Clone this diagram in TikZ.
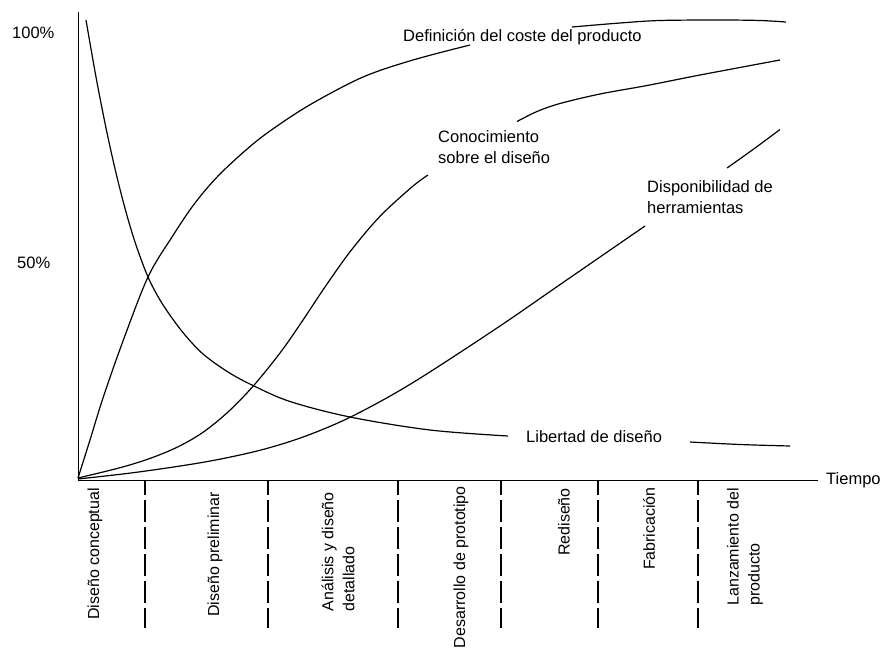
\documentclass[tikz,border=0pt]{standalone}
\usepackage{fontspec}
\setmainfont{Liberation Sans}
\begin{document}
\begin{tikzpicture}[x=1pt,y=-1pt,
  lbl/.style={font=\fontsize{16.5}{21}\selectfont, inner sep=0pt, align=left},
  phase/.style={lbl, font=\fontsize{16}{21}\selectfont, rotate=90, anchor=east},
  curve/.style={line width=1.2pt, line join=round},
  axis/.style={line width=1pt},
  sepline/.style={line width=1.4pt, dash pattern=on 22pt off 5pt, dash phase=7pt}
]
\useasboundingbox (0,0) rectangle (882,651);

% axes
\coordinate (ytop) at (78,12);
\coordinate (orig) at (78,480);
\coordinate (xend) at (818,480);
\draw[axis] (ytop) -- (orig) -- (xend);

% axis labels
\node[lbl, anchor=base west] (p100) at (12,38) {100\%};
\node[lbl, anchor=base west] (p50) at (17,268) {50\%};
\node[lbl, anchor=base west] (tiempo) at (826,484) {Tiempo};

% phase separators
\foreach \xx/\nm in {145/s1,268/s2,398/s3,501/s4,598/s5,698/s6}{
  \coordinate (\nm a) at (\xx,480);
  \coordinate (\nm b) at (\xx,628);
  \draw[sepline] (\nm a) -- (\nm b);
}

% phase labels
\node[phase] (f1) at (95,488) {Diseño conceptual};
\node[phase] (f2) at (215,492) {Diseño preliminar};
\node[phase] (f3) at (338,492) {Análisis y diseño\\detallado};
\node[phase] (f4) at (461,486) {Desarrollo de prototipo};
\node[phase] (f5) at (564,488) {Rediseño};
\node[phase] (f6) at (649,487) {Fabricación};
\node[phase] (f7) at (745,488) {Lanzamiento del\\producto};

% curve labels
\node[lbl, anchor=base west] (lcoste) at (403,41) {Definición del coste del producto};
\node[lbl, anchor=north west] (lcon) at (438,130.5) {Conocimiento\\sobre el diseño};
\node[lbl, anchor=north west] (ldisp) at (647,180.5) {Disponibilidad de\\herramientas};
\node[lbl, anchor=base west] (llib) at (526,442) {Libertad de diseño};

% Libertad de diseño
\draw[curve] plot[smooth, tension=0.55] coordinates {(86,20) (96,77) (106,128) (116,173) (126,212) (136,245) (148,277) (160,300) (172,318) (185,335) (203,354) (228,372) (253,385.5) (290,401.5) (350,417) (430,430) (508,436)};
\draw[curve] plot[smooth, tension=0.55] coordinates {(690,442) (740,444.5) (790,446)};

% Definición del coste del producto
\draw[curve] plot[smooth, tension=0.55] coordinates {(78,478) (90,440) (103,398) (123,341) (148,277) (172,237) (195,203) (220,174) (253,144) (280,124) (313,103) (363,77) (413,60) (470,45)};
\draw[curve] plot[smooth, tension=0.55] coordinates {(572,27) (620,23) (660,20.5) (720,20) (760,20.5) (786,22)};

% Conocimiento sobre el diseño
\draw[curve] plot[smooth, tension=0.55] coordinates {(78,478) (120,467.7) (150,458.4) (178,446.8) (203,432.3) (228,412) (253,386.3) (280,353) (300,324.5) (326,285.5) (351,250.5) (380,216.3) (412,186.9) (428,175)};
\draw[curve] plot[smooth, tension=0.55] coordinates {(517,121.5) (537,111.5) (560,103.5) (600,94) (647,85.5) (700,75) (780,60)};

% Disponibilidad de herramientas
\draw[curve] plot[smooth, tension=0.55] coordinates {(78,479) (137,472.2) (203,462.3) (253,452) (290,441.5) (320,430.5) (350,417.3) (390,396.1) (430,371.9) (500,326) (560,284.6) (645,226)};
\draw[curve] plot[smooth, tension=0.55] coordinates {(727,168) (753,149.5) (780,129.5)};
\end{tikzpicture}
\end{document}
